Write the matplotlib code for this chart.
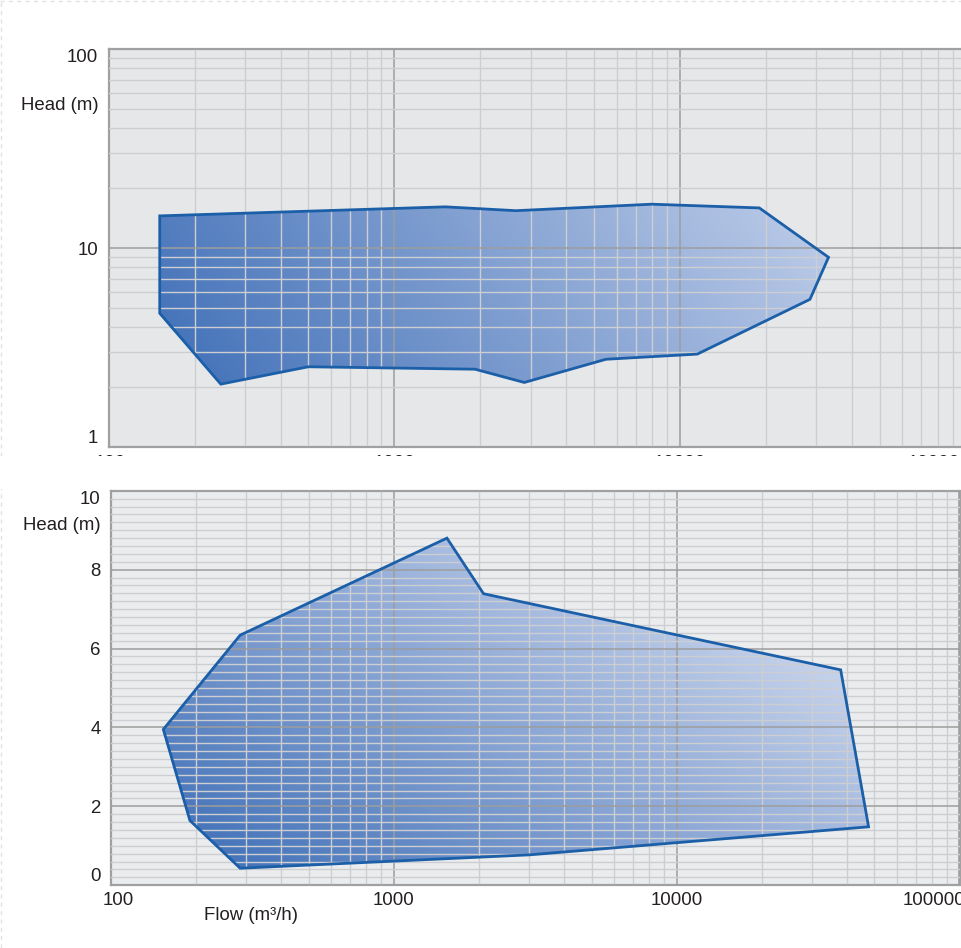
import numpy as np
import matplotlib.pyplot as plt
from matplotlib.patches import Polygon, Rectangle
from matplotlib.colors import LinearSegmentedColormap
from matplotlib.lines import Line2D
from matplotlib.ticker import LogLocator, MultipleLocator, NullFormatter
import matplotlib.transforms as mtransforms

plt.rcParams['font.family'] = ['Liberation Sans', 'DejaVu Sans']
TXT = '#231f20'
FS = 13.4

# upper chart, head 1-100 m on log scale
top_flow = [151, 1508, 2667, 7963, 18950, 33100, 28500, 11500, 5508, 2851, 1917, 500, 247, 151]
top_head = [14.5, 16.1, 15.4, 16.6, 15.9, 8.98, 5.52, 2.93, 2.76, 2.11, 2.46, 2.53, 2.07, 4.7]

# lower chart, head 0-10 m linear
low_flow = [153, 286, 1540, 2075, 38000, 47700, 3020, 286, 190]
low_head = [3.95, 6.34, 8.80, 7.39, 5.46, 1.48, 0.77, 0.43, 1.64]

flow_ticks = [100, 1000, 10000, 100000]
flow_labels = ['100', '1000', '10000', '100000']
top_ticks = [1, 10, 100]
top_labels = ['1', '10', '100']
low_ticks = [0, 2, 4, 6, 8, 10]
low_labels = ['0', '2', '4', '6', '8', '10']

grad = LinearSegmentedColormap.from_list('fill', ['#4674ba', '#c4d1eb'])

fig = plt.figure(figsize=(9.61, 9.48), dpi=100)
W, H = 961, 948

def px_axes(left, top, right, bottom):
    return [left / W, 1 - bottom / H, (right - left) / W, (bottom - top) / H]

ax1 = fig.add_axes(px_axes(108.6, 49, 965.7, 447))
ax2 = fig.add_axes(px_axes(111.1, 490.8, 959.5, 885.2))


def setup(ax, bg, xpad):
    ax.set_facecolor(bg)
    ax.set_xscale('log')
    ax.set_xlim(100, 100000)
    ax.xaxis.set_minor_locator(LogLocator(base=10, subs=np.arange(2, 10)))
    ax.xaxis.set_minor_formatter(NullFormatter())
    ax.set_xticks(flow_ticks)
    ax.set_xticklabels(flow_labels)
    ax.grid(True, which='major', color='#9d9d9d', lw=1.1)
    ax.grid(True, which='minor', color='#cdced2', lw=1.0)
    ax.set_axisbelow(False)
    ax.tick_params(which='both', length=0, labelsize=FS, labelcolor=TXT)
    ax.tick_params(axis='y', pad=7.5)
    ax.tick_params(axis='x', pad=xpad)
    for s in ax.spines.values():
        s.set_color('#a2a2a2')
        s.set_linewidth(1.6)


def envelope(ax, flow, head, kx, ky, shift):
    xy = np.column_stack([flow, head])
    edge = Polygon(xy, closed=True, facecolor='none', edgecolor='#1b5fa8',
                   lw=2.0, zorder=3, joinstyle='miter')
    ax.add_patch(edge)
    pts = ax.transData.transform(xy)
    x0, y0 = pts.min(axis=0)
    bb = ax.bbox
    w, h = int(bb.width), int(bb.height)
    gx, gy = np.meshgrid(bb.x0 + np.arange(w) + 0.5, bb.y0 + np.arange(h) + 0.5)
    t = np.clip(kx * (gx - x0) + ky * (gy - y0) + shift, 0, 1)
    im = ax.imshow(t, cmap=grad, vmin=0, vmax=1, origin='lower', extent=(0, 1, 0, 1),
                   transform=ax.transAxes, aspect='auto', zorder=1,
                   interpolation='bilinear')
    im.set_clip_path(edge)


def shift_label(lab, dx):
    lab.set_transform(lab.get_transform() +
                      mtransforms.ScaledTranslation(dx / 72, 0, fig.dpi_scale_trans))


# top chart
setup(ax1, '#e6e7e9', 5.5)
ax1.set_yscale('log')
ax1.set_ylim(1, 100)
ax1.yaxis.set_minor_locator(LogLocator(base=10, subs=np.arange(2, 10)))
ax1.yaxis.set_minor_formatter(NullFormatter())
ax1.set_yticks(top_ticks)
ax1.set_yticklabels(top_labels)
ax1.spines['right'].set_visible(False)
ylab = ax1.get_yticklabels()
ylab[0].set_va('bottom')
ylab[-1].set_va('top')
envelope(ax1, top_flow, top_head, 0.00127, 0.0009, -0.05)
ax1.set_xlim(100, 100000)
ax1.set_ylim(1, 100)
xl = ax1.get_xticklabels()
shift_label(xl[0], 1.5)
shift_label(xl[-1], -19)

# bottom chart
setup(ax2, '#ebeced', 4.8)
ax2.set_ylim(0, 10)
ax2.set_yticks(low_ticks)
ax2.set_yticklabels(low_labels)
ax2.yaxis.set_minor_locator(MultipleLocator(0.2))
ylab = ax2.get_yticklabels()
ylab[0].set_va('bottom')
ylab[-1].set_va('top')
envelope(ax2, low_flow, low_head, 0.00112, 0.0017, -0.08)
ax2.set_xlim(100, 100000)
ax2.set_ylim(0, 10)
xl = ax2.get_xticklabels()
shift_label(xl[0], 5)
shift_label(xl[-1], -18.5)

# the lower panel hides most of the upper panel's flow labels
fig.add_artist(Rectangle((0, 1 - 489 / H), 1, 33 / H, transform=fig.transFigure,
                         facecolor='white', edgecolor='none', zorder=10))

fig.text(99 / W, 1 - 105 / H, 'Head (m)', ha='right', va='center', fontsize=FS, color=TXT)
fig.text(101 / W, 1 - 525 / H, 'Head (m)', ha='right', va='center', fontsize=FS, color=TXT)
fig.text(251 / W, 1 - 916 / H, 'Flow (m³/h)', ha='center', va='center', fontsize=FS, color=TXT)

# faint dashed page edge
fig.add_artist(Line2D([0.0015, 0.0015], [0, 1], transform=fig.transFigure,
                      color='#e2e2e2', lw=1, ls=(0, (3, 3))))
fig.add_artist(Line2D([0, 1], [0.999, 0.999], transform=fig.transFigure,
                      color='#e2e2e2', lw=1, ls=(0, (3, 3))))

fig.savefig('out.png', dpi=100)
